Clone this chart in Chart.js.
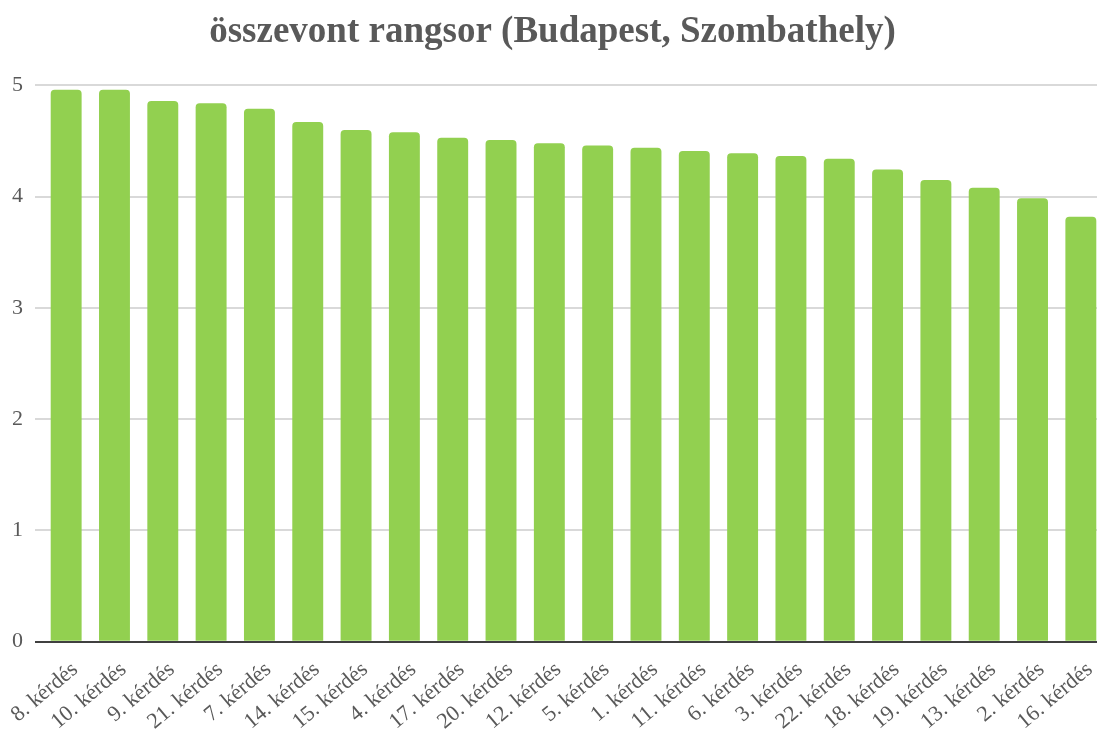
<!DOCTYPE html>
<html>
<head>
<meta charset="utf-8">
<script src="https://cdn.jsdelivr.net/npm/chart.js@4"></script>
<style>
  html, body { margin: 0; padding: 0; background: #fff; overflow: hidden; }
  #wrap { position: relative; width: 1108px; height: 737px; }
</style>
</head>
<body>
<div id="wrap"><canvas id="rankChart"></canvas></div>
<script>
// összevont rangsor - átlagpontszámok kérdésenként
const questions = ['8. kérdés', '10. kérdés', '9. kérdés', '21. kérdés', '7. kérdés', '14. kérdés',
    '15. kérdés', '4. kérdés', '17. kérdés', '20. kérdés', '12. kérdés', '5. kérdés', '1. kérdés',
    '11. kérdés', '6. kérdés', '3. kérdés', '22. kérdés', '18. kérdés', '19. kérdés', '13. kérdés',
    '2. kérdés', '16. kérdés'];
const scores = [4.96, 4.96, 4.86, 4.84, 4.79, 4.67, 4.60, 4.58, 4.53, 4.51, 4.48, 4.46, 4.44,
    4.41, 4.39, 4.365, 4.34, 4.245, 4.15, 4.08, 3.985, 3.82];
const yTicks = [0, 1, 2, 3, 4, 5];

const serif = "'Liberation Serif', 'Times New Roman', serif";
const ctx = document.getElementById('rankChart').getContext('2d');
new Chart(ctx, {
    type: 'bar',
    data: {
        labels: questions,
        datasets: [{
            data: scores,
            backgroundColor: '#92d050',
            borderRadius: 4,
            borderSkipped: 'start',
            categoryPercentage: 1,
            barPercentage: 0.64
        }]
    },
    options: {
        responsive: true,
        maintainAspectRatio: false,
        animation: false,
        layout: { padding: { left: 0, right: 3, top: 0, bottom: -5 } },
        scales: {
            y: {
                min: 0,
                max: 5,
                afterBuildTicks: axis => { axis.ticks = yTicks.map(v => ({ value: v })); },
                border: { display: false },
                grid: {
                    color: c => c.tick && c.tick.value === 0 ? '#404040' : '#d9d9d9',
                    lineWidth: 2,
                    tickLength: 7
                },
                ticks: {
                    color: '#595959',
                    padding: 12,
                    font: { family: serif, size: 22 }
                }
            },
            x: {
                afterFit: axis => { axis.paddingLeft = 42; },
                border: { display: false },
                grid: { display: false },
                ticks: {
                    color: '#595959',
                    minRotation: 40,
                    maxRotation: 40,
                    autoSkip: false,
                    padding: 7,
                    labelOffset: 9,
                    font: { family: serif, size: 22 }
                }
            }
        },
        plugins: {
            legend: { display: false },
            tooltip: { enabled: false },
            title: {
                display: true,
                text: 'összevont rangsor (Budapest, Szombathely)',
                color: '#595959',
                padding: { top: 10, bottom: 31 },
                font: { family: serif, size: 37, weight: 'bold' }
            }
        }
    }
});
</script>
</body>
</html>
